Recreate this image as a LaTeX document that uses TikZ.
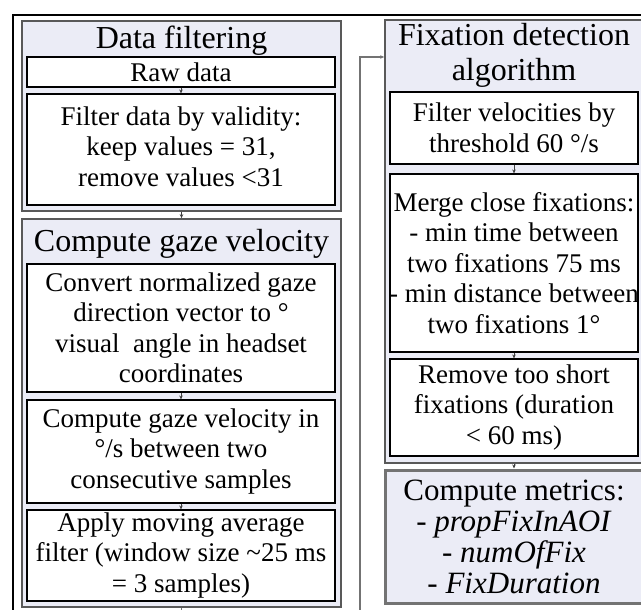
\documentclass[tikz,border=0pt]{standalone}
\usepackage{fontspec}
\setmainfont{Liberation Serif}
\usetikzlibrary{arrows.meta}
\definecolor{grpfill}{RGB}{235,236,246}

\begin{document}
\begin{tikzpicture}[x=1pt, y=-1pt, >={Stealth[length=4pt,width=3.5pt]},
  group/.style={draw=black!65, line width=1.6pt, fill=grpfill, minimum width=319pt, inner sep=0pt},
  stepbox/.style={draw=black, line width=1.1pt, fill=white, minimum width=308pt, align=center, inner sep=0pt, font=\fontsize{27}{30.5}\selectfont},
  title/.style={align=center, inner sep=0pt, font=\fontsize{32}{35}\selectfont},
  link/.style={draw=black!75, line width=0.8pt, ->}]
\useasboundingbox (0,0) rectangle (641,610);
\clip (0,0) rectangle (641,610);
\coordinate (outa) at (13,630);
\coordinate (outb) at (13,15);
\coordinate (outc) at (660,15);
\draw[line width=1.4pt] (outa) -- (outb) -- (outc);

\node[group, minimum height=190pt] (filtgrp) at (181.5,116) {};
\node[title] (filttitle) at (181.5,41) {Data filtering};
\node[stepbox, minimum height=30pt] (raw) at (181,72) {Raw data};
\node[stepbox, minimum height=111pt, text depth=6pt] (valid) at (181,149.5) {Filter data by validity:\\ keep values = 31,\\ remove values <31};

\node[group, minimum height=388pt] (velgrp) at (181.5,413) {};
\node[title] (veltitle) at (181.5,244) {Compute gaze velocity};
\node[stepbox, minimum height=128pt] (conv) at (181,328) {Convert normalized gaze\\ direction vector to °\\ visual\ \ angle in headset\\ coordinates};
\node[stepbox, minimum height=103pt] (speed) at (181,451.5) {Compute gaze velocity in\\ °/s between two\\ consecutive samples};
\node[stepbox, minimum height=91pt] (smooth) at (181,555.5) {Apply moving average\\ filter (window size \textasciitilde25 ms\\ = 3 samples)};

\node[group, minimum width=258pt, minimum height=443pt] (fixgrp) at (514,241.5) {};
\node[title] (fixtitle) at (514,55) {Fixation detection\\ algorithm};
\node[stepbox, minimum width=248pt, minimum height=72pt] (thresh) at (514,128) {Filter velocities by\\ threshold 60 °/s};
\node[stepbox, minimum width=248pt, minimum height=178pt] (merge) at (514,263) {Merge close fixations:\\ - min time between\\ two fixations 75 ms\\ \makebox[0pt]{- min distance between}\\ two fixations 1°};
\node[stepbox, minimum width=248pt, minimum height=97pt] (short) at (514,407.5) {Remove too short\\ fixations (duration\\ < 60 ms)};

\node[draw=black!55, line width=3pt, fill=grpfill, minimum width=258pt, minimum height=133pt, align=center, inner sep=0pt, font=\fontsize{31}{31}\selectfont] (metrics) at (514,536.5) {Compute metrics:\\ - \textit{propFixInAOI}\\ - \textit{numOfFix}\\ - \textit{FixDuration}};

\draw[link] (raw) -- (valid);
\draw[link] (filtgrp) -- (velgrp);
\draw[link] (conv) -- (speed);
\draw[link] (speed) -- (smooth);
\draw[link] (thresh) -- (merge);
\draw[link] (merge) -- (short);
\draw[link] (fixgrp) -- (metrics);

\coordinate (turn) at (360,57);
\draw[link, draw=black!55, line width=1.2pt] (velgrp.south) -- ++(0,20) -| (turn) -- (turn -| fixgrp.west);
\end{tikzpicture}
\end{document}
